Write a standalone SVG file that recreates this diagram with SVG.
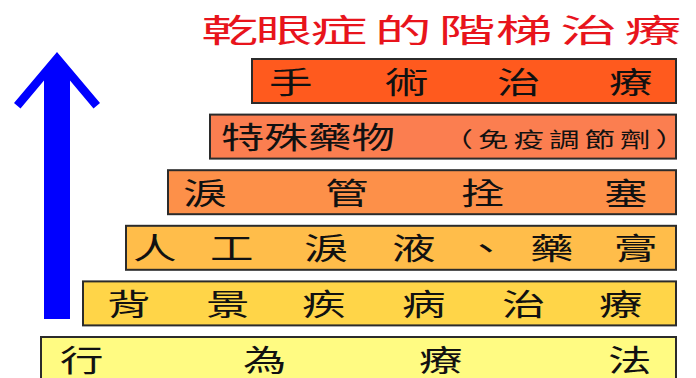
<svg xmlns="http://www.w3.org/2000/svg" width="696" height="378" viewBox="0 0 696 378">
<style>
.box{stroke:#2b2b2b;stroke-width:2}
.t{font-family:"Noto Sans CJK TC","Noto Sans CJK SC",sans-serif;font-size:30px;fill:#111}
.s{font-family:"Noto Sans CJK TC","Noto Sans CJK SC",sans-serif;font-size:21px;fill:#111;letter-spacing:3.5px}
.title{font-family:"Noto Sans CJK TC","Noto Sans CJK SC",sans-serif;font-size:32px;fill:#E8141C}
</style>
<rect width="696" height="378" fill="#ffffff"/>
<g id="title">
<text class="title" transform="translate(0,42) scale(1.78,1)" x="113 143.5 174.5 210.5 246.5 278.5 314.8 350.8" y="0">乾眼症的階梯治療</text>
</g>
<g id="arrow">
<polygon points="57,52 100,103 93.5,108.5 70,80.6 70,319 44,319 44,80.6 20.5,108.5 14,103" fill="#0000FF"/>
</g>
<g id="connectors"></g>
<g id="step1">
<rect class="box" x="252" y="59" width="424" height="44" fill="#FF5A1E"/>
<text class="t" transform="translate(0,92.5) scale(1.45,1)" x="185.5 265.5 342.8 420" y="0">手術治療</text>
</g>
<g id="step2">
<rect class="box" x="210" y="114.6" width="466" height="44" fill="#FB7E50"/>
<text class="t" transform="translate(0,147.5) scale(1.45,1)" x="152.4" y="0">特殊藥物</text>
<text class="s" transform="translate(0,147) scale(1.45,1)" x="305.2" y="0">（免疫調節劑）</text>
</g>
<g id="step3">
<rect class="box" x="168" y="170.2" width="508" height="44" fill="#FD9049"/>
<text class="t" transform="translate(0,203.7) scale(1.45,1)" x="126.2 224.1 317.9 416.6" y="0">淚管拴塞</text>
</g>
<g id="step4">
<rect class="box" x="126" y="225.8" width="550" height="44" fill="#FFBD4A"/>
<text class="t" transform="translate(0,259.3) scale(1.45,1)" x="91.7 144.8 209.7 270.3 320.0 365.5 423.4" y="0">人工淚液、藥膏</text>
</g>
<g id="step5">
<rect class="box" x="83" y="281.4" width="593" height="44" fill="#FFD548"/>
<text class="t" transform="translate(0,315) scale(1.45,1)" x="73.8 142.1 208.3 277.2 346.2 413.1" y="0">背景疾病治療</text>
</g>
<g id="step6">
<rect class="box" x="41" y="337" width="635" height="46" fill="#FFFB82"/>
<text class="t" transform="translate(0,370.5) scale(1.45,1)" x="41.4 167.6 289.0 419.3" y="0">行為療法</text>
</g>
</svg>
